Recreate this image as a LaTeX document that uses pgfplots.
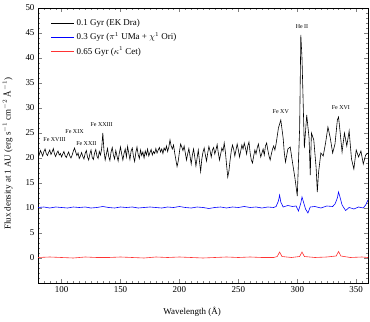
\documentclass[border=0pt]{standalone}
\usepackage{fontspec}
\setmainfont{Liberation Serif}
\usepackage{pgfplots}
\pgfplotsset{compat=1.18}

\pgfplotstableread{
lam flux
80 21.2
81 20.6
82 21.5
83 21.0
84 20.4
85 21.3
86 21.8
87 20.9
88 20.5
89 21.1
90 21.6
91 20.7
92 21.2
93 21.9
94 20.8
95 20.3
96 21.0
97 21.4
98 20.6
99 20.9
100 20.2
101 20.8
102 21.3
103 20.5
104 20.1
105 20.7
106 21.2
107 20.4
108 20.0
109 20.6
110 21.4
111 22.0
112 21.2
113 20.5
114 21.0
115 19.9
116 20.4
117 21.1
118 20.3
119 19.8
120 20.9
121 21.5
122 20.2
123 19.6
124 20.8
125 21.6
126 20.1
127 19.7
128 21.0
129 21.7
130 20.4
131 19.9
132 21.3
133 20.6
134 21.8
135 25.0
136 21.4
137 19.6
138 20.8
139 21.9
140 20.3
141 19.5
142 21.2
143 22.1
144 20.6
145 19.8
146 21.5
147 20.4
148 19.4
149 21.0
150 22.2
151 20.8
152 19.6
153 20.9
154 21.8
155 20.2
156 22.3
157 21.0
158 19.7
159 21.4
160 22.0
161 20.3
162 19.3
163 21.1
164 22.2
165 20.7
166 19.9
167 21.6
168 20.5
169 21.2
170 20.0
171 21.4
172 20.6
173 21.8
174 20.4
175 21.1
176 21.7
177 20.6
178 21.3
179 20.9
180 21.9
181 21.0
182 21.6
183 22.1
184 21.2
185 21.8
186 20.9
187 22.0
188 21.5
189 22.4
190 21.3
191 22.2
192 23.6
193 22.4
194 21.8
195 22.6
196 21.0
197 19.6
198 18.3
199 19.4
200 21.2
201 22.8
202 22.2
203 21.5
204 22.4
205 21.0
206 19.6
207 20.8
208 21.9
209 20.4
210 18.8
211 20.6
212 21.8
213 20.2
214 18.4
215 20.0
216 21.6
217 19.4
218 17.3
219 19.8
220 21.2
221 22.0
222 20.6
223 19.4
224 21.0
225 22.3
226 21.4
227 20.2
228 21.6
229 22.1
230 20.8
231 21.6
232 22.7
233 21.0
234 19.6
235 20.8
236 22.0
237 21.4
238 23.0
239 21.2
240 18.6
241 16.2
242 17.4
243 19.6
244 21.4
245 22.6
246 21.8
247 20.4
248 21.6
249 22.8
250 21.6
251 20.2
252 21.4
253 22.6
254 21.8
255 23.0
256 22.0
257 20.8
258 22.4
259 23.2
260 21.0
261 19.6
262 19.0
263 20.4
264 21.6
265 20.8
266 22.0
267 22.8
268 21.4
269 20.2
270 21.0
271 21.8
272 20.6
273 22.4
274 23.0
275 21.6
276 20.4
277 19.6
278 20.8
279 21.8
280 22.4
281 21.6
282 22.8
284 26.0
286 27.6
288 24.0
289 21.0
290 19.2
292 21.8
294 22.2
296 19.0
298 16.0
300 12.4
302 26.0
303 44.6
304 40.0
306 22.0
308 28.6
310 24.0
311 16.6
312 25.0
314 23.6
316 18.0
317 13.2
318 17.0
320 21.0
322 20.4
324 23.0
326 26.2
328 24.0
330 21.0
332 22.8
334 27.6
335 28.2
336 26.0
338 21.2
340 25.0
342 22.4
344 25.4
346 19.8
348 17.8
350 21.6
352 20.2
354 21.4
356 18.8
358 20.6
360 21.0
}\ekdra

\pgfplotstableread{
lam flux
80 10.1
85 10.2
90 10.0
95 10.2
100 10.1
105 10.0
110 10.2
115 10.1
120 10.2
125 10.0
130 10.1
135 10.3
140 10.1
145 10.0
150 10.2
155 10.1
160 10.2
165 10.0
170 10.1
175 10.2
180 10.1
185 10.0
190 10.2
195 10.1
200 10.3
205 10.1
210 10.0
215 10.2
220 10.1
225 9.9
230 10.1
235 10.2
240 10.0
245 10.2
250 10.1
255 10.3
260 10.1
265 10.2
270 10.0
275 10.2
280 10.1
282 10.3
284 11.4
285 12.6
286 11.2
288 10.2
292 10.5
296 10.3
299 10.4
301 9.4
303 11.0
304 12.2
305 11.4
307 9.8
309 9.0
311 10.2
315 10.3
320 10.0
325 10.4
330 10.3
332 10.8
334 12.0
335 13.2
336 12.4
338 10.6
341 9.5
344 10.1
348 9.8
352 10.2
356 10.0
358 10.6
360 11.6
}\piuma

\pgfplotstableread{
lam flux
80 0.1
90 0.2
100 0.1
110 0.0
120 0.2
130 0.1
140 0.1
150 0.2
160 0.1
170 0.0
180 0.2
190 0.1
200 0.2
210 0.1
220 0.0
230 0.1
240 0.2
250 0.1
260 0.2
270 0.1
280 0.1
283 0.3
285 1.2
287 0.3
295 0.1
302 0.3
304 1.2
306 0.3
315 0.1
325 0.2
333 0.4
335 1.3
337 0.4
345 0.1
355 0.2
360 0.1
}\kapcet

\begin{document}
\begin{tikzpicture}[font=\fontsize{9}{11}\selectfont]
\useasboundingbox (-38bp,-39bp) rectangle (332bp,283bp);
\begin{axis}[
  scale only axis,
  width=330bp, height=275bp,
  xmin=80, xmax=360,
  ymin=-5, ymax=50,
  xtick={50,100,...,400},
  minor x tick num=9,
  ytick={-5,0,...,50},
  yticklabels={,0,5,10,15,20,25,30,35,40,45,50},
  minor y tick num=4,
  tick align=inside,
  major tick length=4bp,
  minor tick length=2bp,
  /pgf/number format/assume math mode=true,
  xlabel={Wavelength (Å)},
  ylabel={Flux density at 1 AU (erg s$^{-1}$ cm$^{-2}$ Å$^{-1}$)},
  xlabel style={at={(axis description cs:0.467,-0.105)}, anchor=center},
  ylabel style={at={(axis description cs:-0.092,0.47)}, anchor=center},
  legend style={at={(axis description cs:0.03,0.975)}, anchor=north west,
    draw=none, fill=none, font=\fontsize{9}{10}\selectfont,
    row sep=1.5bp},
  legend cell align=left,
  legend image code/.code={\draw[#1] (0bp,0bp) -- (23bp,0bp);},
]
\addplot[black, line width=0.6pt] table[x=lam,y=flux] {\ekdra};
\addlegendentry{0.1 Gyr (EK Dra)}
\addplot[blue, line width=0.6pt] table[x=lam,y=flux] {\piuma};
\addlegendentry{0.3 Gyr ($\pi^1$ UMa + $\chi^1$ Ori)}
\addplot[red!80!white, line width=0.6pt] table[x=lam,y=flux] {\kapcet};
\addlegendentry{0.65 Gyr ($\kappa^1$ Cet)}

\begin{scope}[font=\fontsize{6}{7}\selectfont]
\node at (axis cs:94,23.6) {Fe XVIII};
\node at (axis cs:111,25.2) {Fe XIX};
\node at (axis cs:121,22.9) {Fe XXII};
\node at (axis cs:134,26.6) {Fe XXIII};
\node at (axis cs:286,29.2) {Fe XV};
\node at (axis cs:304,46.3) {He II};
\node at (axis cs:337,30.0) {Fe XVI};
\end{scope}
\end{axis}
\end{tikzpicture}
\end{document}
